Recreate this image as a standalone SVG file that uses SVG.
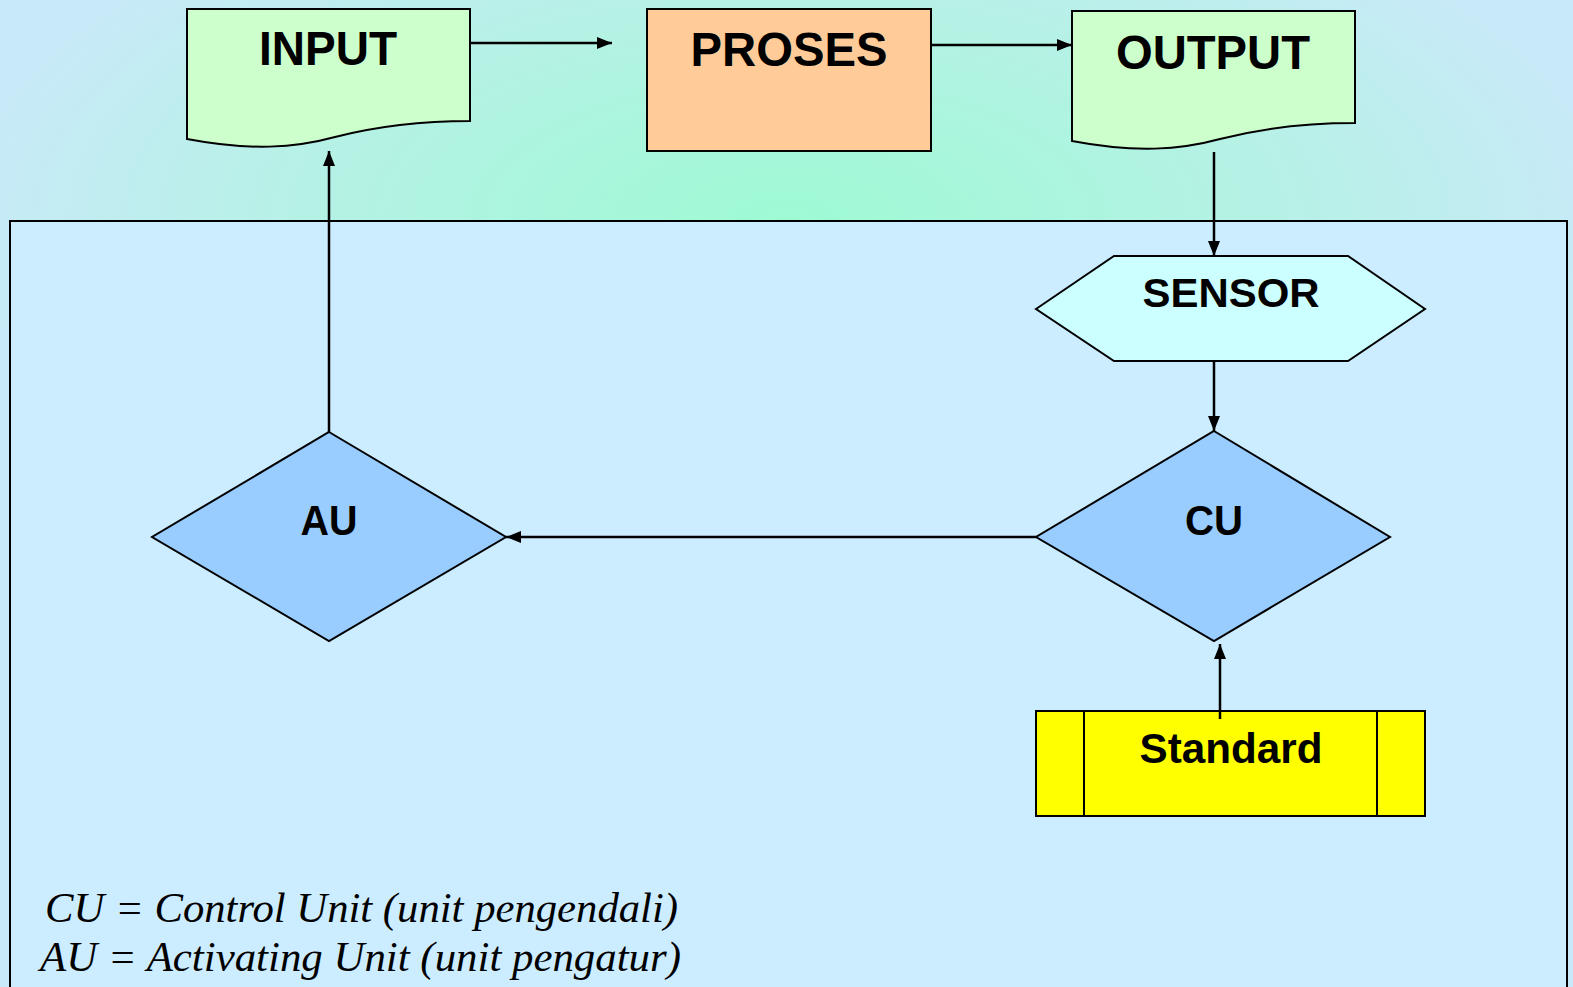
<svg xmlns="http://www.w3.org/2000/svg" width="1573" height="987" viewBox="0 0 1573 987">
  <defs>
    <radialGradient id="bg" gradientUnits="userSpaceOnUse" cx="787" cy="220" r="820" gradientTransform="translate(0 220) scale(1 0.45) translate(0 -220)">
      <stop offset="0" stop-color="#9EFAD4"/>
      <stop offset="0.6" stop-color="#B6F1E6"/>
      <stop offset="1" stop-color="#C8EAF8"/>
    </radialGradient>
    <marker id="arr" viewBox="0 0 15 12" refX="15" refY="6" markerWidth="15" markerHeight="12" markerUnits="userSpaceOnUse" orient="auto">
      <path d="M0,0 L15,6 L0,12 Z" fill="#000"/>
    </marker>
  </defs>
  <style>
    .shape { stroke: #000; stroke-width: 2; }
    .lbl { font-family: "Liberation Sans", Arial, sans-serif; font-weight: bold; fill: #000; text-anchor: middle; }
    .legend { font-family: "Liberation Serif", "Times New Roman", serif; font-style: italic; fill: #000; }
    .conn { stroke: #000; stroke-width: 2.5; fill: none; marker-end: url(#arr); }
  </style>

  <rect x="0" y="0" width="1573" height="987" fill="url(#bg)"/>
  <rect id="panel" x="10" y="221" width="1557" height="790" fill="#CCECFF" stroke="#000" stroke-width="2"/>

  <g id="input">
    <path class="shape" fill="#CCFFCC" d="M187,9 H470 V121 C410,121 370,128 335,137 C295,148 250,151 187,139 Z"/>
    <text class="lbl" x="328" y="65" font-size="48" textLength="138" lengthAdjust="spacingAndGlyphs">INPUT</text>
  </g>

  <g id="proses">
    <rect class="shape" x="647" y="9" width="284" height="142" fill="#FFCC99"/>
    <text class="lbl" x="789" y="66" font-size="48" textLength="197" lengthAdjust="spacingAndGlyphs">PROSES</text>
  </g>

  <g id="output">
    <path class="shape" fill="#CCFFCC" d="M1072,11 H1355 V123 C1295,123 1255,130 1220,139 C1180,150 1135,153 1072,141 Z"/>
    <text class="lbl" x="1213" y="69" font-size="48" textLength="194" lengthAdjust="spacingAndGlyphs">OUTPUT</text>
  </g>

  <g id="sensor">
    <polygon class="shape" fill="#CCFFFF" points="1036,309 1114,256 1348,256 1425,309 1348,361 1114,361"/>
    <text class="lbl" x="1231" y="307" font-size="41" textLength="177" lengthAdjust="spacingAndGlyphs">SENSOR</text>
  </g>

  <g id="cu">
    <polygon class="shape" fill="#99CCFF" points="1214,431 1390,537 1214,641 1036,537"/>
    <text class="lbl" x="1214" y="535" font-size="42" textLength="58" lengthAdjust="spacingAndGlyphs">CU</text>
  </g>

  <g id="au">
    <polygon class="shape" fill="#99CCFF" points="329,432 506,537 329,641 152,537"/>
    <text class="lbl" x="329" y="535" font-size="42" textLength="57" lengthAdjust="spacingAndGlyphs">AU</text>
  </g>

  <g id="standard">
    <rect class="shape" x="1036" y="711" width="389" height="105" fill="#FFFF00"/>
    <line class="shape" x1="1084" y1="711" x2="1084" y2="816"/>
    <line class="shape" x1="1377" y1="711" x2="1377" y2="816"/>
    <text class="lbl" x="1231" y="763" font-size="42" textLength="183" lengthAdjust="spacingAndGlyphs">Standard</text>
  </g>

  <g id="connectors">
    <line class="conn" x1="470" y1="43" x2="612" y2="43"/>
    <line class="conn" x1="931" y1="45" x2="1072" y2="45"/>
    <line class="conn" x1="1214" y1="152" x2="1214" y2="256"/>
    <line class="conn" x1="1214" y1="361" x2="1214" y2="431"/>
    <line class="conn" x1="1036" y1="537" x2="506" y2="537"/>
    <line class="conn" x1="329" y1="432" x2="329" y2="151"/>
    <line class="conn" x1="1220" y1="719" x2="1220" y2="644"/>
  </g>

  <g id="legend">
    <text class="legend" x="45" y="922" font-size="42" textLength="633" lengthAdjust="spacingAndGlyphs">CU = Control Unit (unit pengendali)</text>
    <text class="legend" x="40" y="971" font-size="42" textLength="641" lengthAdjust="spacingAndGlyphs">AU = Activating Unit (unit pengatur)</text>
  </g>
</svg>
